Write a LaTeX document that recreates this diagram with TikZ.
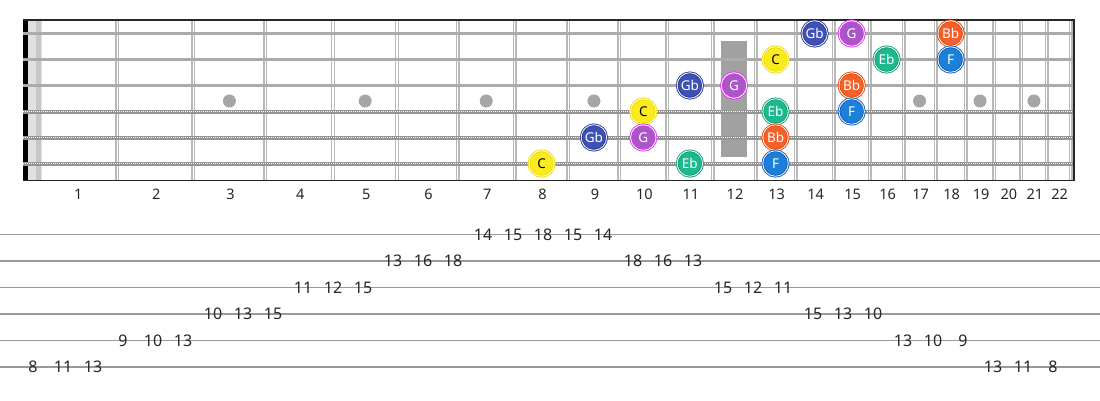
\documentclass[tikz,border=0pt]{standalone}
\usepackage{fontspec}
\setmainfont{Noto Sans}
\definecolor{cGb}{HTML}{3F51B5}
\definecolor{bGb}{HTML}{2C3A9E}
\definecolor{cG}{HTML}{A957C6}
\definecolor{bG}{HTML}{D53CEB}
\definecolor{cC}{HTML}{F9EB1E}
\definecolor{bC}{HTML}{F0DC00}
\definecolor{cEb}{HTML}{1DB88E}
\definecolor{bEb}{HTML}{14A07A}
\definecolor{cBb}{HTML}{F5602A}
\definecolor{bBb}{HTML}{E84C10}
\definecolor{cF}{HTML}{1C80D8}
\definecolor{bF}{HTML}{1460C0}
\pgfmathdeclarefunction{fretpos}{1}{\pgfmathparse{37+1437*(1-pow(2,-#1/12))}}
\pgfmathdeclarefunction{fretmid}{1}{\pgfmathparse{37+1437*(1-(pow(2,-(#1-1)/12)+pow(2,-#1/12))/2)}}
\pgfmathdeclarefunction{stringy}{1}{\pgfmathparse{33.5+26*(#1-1)}}
\pgfmathdeclarefunction{taby}{1}{\pgfmathparse{234.5+26.5*(#1-1)}}
\begin{document}
\begin{tikzpicture}[x=1pt,y=-1pt,
  fretnum/.style={font=\fontsize{14.5}{14.5}\selectfont, text=black!85, inner sep=0pt},
  tabnum/.style={font=\fontsize{16}{16}\selectfont, text=black!85, inner sep=0pt},
  tabline/.style={draw=black!40, line width=1.5pt},
  fretouter/.style={draw=black!28, line width=4pt},
  fretinner/.style={draw=white, line width=1.4pt},
  plainstring/.style={draw=black!33, line width=2.5pt},
  woundbase/.style={draw=black!42, line width=4pt},
  woundtex/.style={draw=white, line width=1.8pt, dash pattern=on 0.9pt off 1.1pt},
  inlay/.style={fill=black!35},
  border/.style={draw=black!85, line width=1.6pt},
  note/.style 2 args={circle, minimum size=25.5pt, inner sep=0pt, fill=#1, draw=#2,
     double=white, double distance=0.8pt, line width=0.9pt, text=white,
     font=\fontsize{13.5}{13.5}\selectfont},
  nGb/.style={note={cGb}{bGb}},
  nG/.style={note={cG}{bG}},
  nC/.style={note={cC}{bC}, text=black},
  nEb/.style={note={cEb}{bEb}},
  nBb/.style={note={cBb}{bBb}},
  nF/.style={note={cF}{bF}},
]
\useasboundingbox[fill=white] (0,0) rectangle (1100,400);
% nut area
\fill[black!12] (28,20) rectangle (42,180.5);
\fill[black!22] (36,20) rectangle (41,180.5);
\fill[black] (23,20) rectangle (28,181);
% frets
\foreach \n in {1,...,22}{
  \draw[fretouter] ({fretpos(\n)},20) -- ({fretpos(\n)},180);
  \draw[fretinner] ({fretpos(\n)},20) -- ({fretpos(\n)},180);
}
% inlays
\foreach \n in {3,5,7,9,15,17,19,21}{
  \fill[inlay] ({fretmid(\n)},101) circle (6.5);
}
\fill[black!37] ({fretmid(12)-13},41) rectangle ({fretmid(12)+13},157);
% strings
\foreach \s in {1,2,3}{
  \draw[plainstring] (23,{stringy(\s)}) -- (1074,{stringy(\s)});
}
\foreach \s in {4,5,6}{
  \draw[woundbase] (23,{stringy(\s)}) -- (1074,{stringy(\s)});
  \draw[woundtex] (23,{stringy(\s)}) -- (1074,{stringy(\s)});
}
% borders
\draw[border] (23,20) -- (1075,20);
\draw[border] (23,180.5) -- (1075,180.5);
\draw[border] (1074,20) -- (1074,181);
% fret numbers
\foreach \n in {1,...,22}{
  \node[fretnum] (fn\n) at ({fretmid(\n)+1},194) {\n};
}
% notes
\node[nGb] (s1f14) at ({fretmid(14)},{stringy(1)}) {Gb};
\node[nG]  (s1f15) at ({fretmid(15)},{stringy(1)}) {G};
\node[nBb] (s1f18) at ({fretmid(18)},{stringy(1)}) {Bb};
\node[nC]  (s2f13) at ({fretmid(13)},{stringy(2)}) {C};
\node[nEb] (s2f16) at ({fretmid(16)},{stringy(2)}) {Eb};
\node[nF]  (s2f18) at ({fretmid(18)},{stringy(2)}) {F};
\node[nGb] (s3f11) at ({fretmid(11)},{stringy(3)}) {Gb};
\node[nG]  (s3f12) at ({fretmid(12)},{stringy(3)}) {G};
\node[nBb] (s3f15) at ({fretmid(15)},{stringy(3)}) {Bb};
\node[nC]  (s4f10) at ({fretmid(10)},{stringy(4)}) {C};
\node[nEb] (s4f13) at ({fretmid(13)},{stringy(4)}) {Eb};
\node[nF]  (s4f15) at ({fretmid(15)},{stringy(4)}) {F};
\node[nGb] (s5f9)  at ({fretmid(9)},{stringy(5)}) {Gb};
\node[nG]  (s5f10) at ({fretmid(10)},{stringy(5)}) {G};
\node[nBb] (s5f13) at ({fretmid(13)},{stringy(5)}) {Bb};
\node[nC]  (s6f8)  at ({fretmid(8)},{stringy(6)}) {C};
\node[nEb] (s6f11) at ({fretmid(11)},{stringy(6)}) {Eb};
\node[nF]  (s6f13) at ({fretmid(13)},{stringy(6)}) {F};
% tab
\foreach \k in {1,...,6}{
  \draw[tabline] (0,{taby(\k)}) -- (1100,{taby(\k)});
}
\foreach \i/\s/\v in {0/6/8,1/6/11,2/6/13,3/5/9,4/5/10,5/5/13,6/4/10,7/4/13,8/4/15,
  9/3/11,10/3/12,11/3/15,12/2/13,13/2/16,14/2/18,15/1/14,16/1/15,17/1/18,18/1/15,19/1/14,
  20/2/18,21/2/16,22/2/13,23/3/15,24/3/12,25/3/11,26/4/15,27/4/13,28/4/10,
  29/5/13,30/5/10,31/5/9,32/6/13,33/6/11,34/6/8}{
  \node[tabnum] (tab\i) at ({33+30*\i},{taby(\s)}) {\v};
}
\end{tikzpicture}
\end{document}
